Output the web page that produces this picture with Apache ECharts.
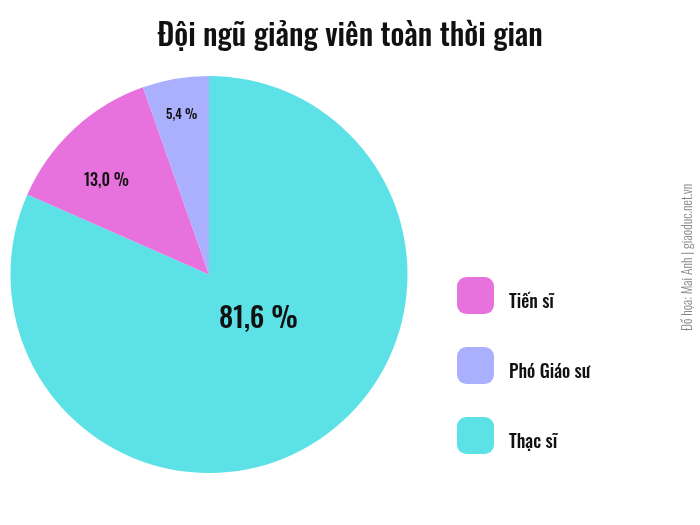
<!DOCTYPE html>
<html><head><meta charset="utf-8">
<script src="https://cdn.jsdelivr.net/npm/echarts@6/dist/echarts.min.js"></script>
<style>html,body{margin:0;padding:0;background:#fff}#c{width:700px;height:525px}</style>
</head><body><div id="c"></div>
<script>
const categories = ['Thạc sĩ', 'Tiến sĩ', 'Phó Giáo sư'];
const values = [81.6, 13.0, 5.4];
const legendOrder = ['Tiến sĩ', 'Phó Giáo sư', 'Thạc sĩ'];
const colors = ['#5ce1e6', '#e872dd', '#aab0fe'];
const labelShift = [[-6.5, -41], [-33, -18], [-10, -59]];
const labelSizes = [28, 16, 13];
const FONT = 'Oswald, sans-serif';

const chart = echarts.init(document.getElementById('c'), null, {renderer: 'canvas'});
chart.setOption({
  animation: false,
  title: {
    text: 'Đội ngũ giảng viên toàn thời gian',
    left: 'center', top: 16,
    textStyle: {fontFamily: FONT, fontSize: 30.5, fontWeight: 500, color: '#111'}
  },
  legend: {
    data: legendOrder,
    orient: 'vertical', left: 452, top: 272,
    itemWidth: 37, itemHeight: 37, itemGap: 33,
    icon: 'roundRect',
    formatter: '{t|{name}}',
    textStyle: {
      fontFamily: FONT, fontSize: 18, fontWeight: 500, color: '#111',
      rich: {t: {fontFamily: FONT, fontSize: 18, fontWeight: 500, color: '#111', padding: [14, 0, 0, 10]}}
    }
  },
  graphic: [{
    type: 'text', x: 695, y: 331, rotation: Math.PI / 2,
    style: {text: 'Đồ họa: Mai Anh | giaoduc.net.vn', fontFamily: FONT, fontSize: 13.5, fontWeight: 300, fill: '#888',
            textAlign: 'left', textVerticalAlign: 'bottom'}
  }],
  series: [{
    type: 'pie',
    center: [209, 274.5],
    radius: [0, 198.5],
    startAngle: 90,
    clockwise: true,
    avoidLabelOverlap: false,
    label: {
      position: 'inside',
      fontFamily: FONT, fontWeight: 500, color: '#111',
      formatter: p => p.value.toFixed(1).replace('.', ',') + ' %'
    },
    labelLine: {show: false},
    labelLayout: p => ({dx: labelShift[p.dataIndex][0], dy: labelShift[p.dataIndex][1]}),
    data: categories.map((n, i) => ({
      name: n, value: values[i],
      itemStyle: {color: colors[i]},
      label: {fontSize: labelSizes[i]}
    }))
  }]
});
</script></body></html>
